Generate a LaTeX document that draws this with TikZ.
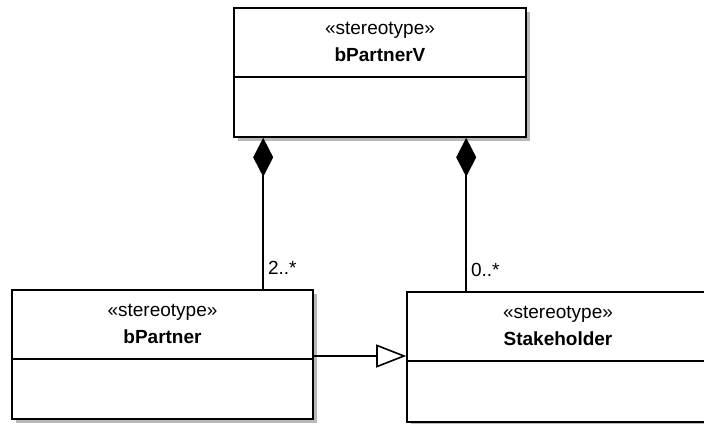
\documentclass[tikz,border=0pt]{standalone}
\usepackage{fontspec}
\setmainfont{Liberation Sans}
\usetikzlibrary{arrows.meta,calc,shadows}
\begin{document}
\begin{tikzpicture}[x=1pt,y=-1pt,
  classbox/.style={draw,line width=1.6pt,fill=white,inner sep=0pt,
    drop shadow={shadow xshift=4pt,shadow yshift=-4pt,fill=black!28,opacity=1}},
  stereo/.style={font=\fontsize{19}{22}\selectfont,inner sep=0pt},
  cname/.style={font=\fontsize{19}{22}\selectfont\bfseries,inner sep=0pt},
  mult/.style={font=\fontsize{19}{22}\selectfont,inner sep=4pt},
  conn/.style={line width=1.6pt},
  comp/.style={conn,{Diamond[length=39pt,width=20pt,fill=black]}-},
  gen/.style={conn,-{Triangle[open,length=30pt,width=23pt,fill=white]}}]
\useasboundingbox (0,0) rectangle (704,423);
\clip (0,0) rectangle (704,423);

% class boxes
\node[classbox,minimum width=292pt,minimum height=129pt] (V) at (380,72.5) {};
\node[classbox,minimum width=301pt,minimum height=129pt] (P) at (162.5,354.5) {};
\node[classbox,minimum width=302pt,minimum height=130pt] (S) at (558,357) {};

% compartments and titles
\foreach \b/\t in {V/bPartnerV,P/bPartner,S/Stakeholder}{
  \draw[conn] ($(\b.north west)+(0,70)$) -- ($(\b.north east)+(0,70)$);
  \node[stereo] (\b-st) at ($(\b.north)+(0,23)$) {«stereotype»};
  \node[cname] (\b-nm) at ($(\b.north)+(0,48)$) {\t};
}

% composition ends on the container
\path (V.south west) ++(30,0) coordinate (a1);
\path (V.south west) ++(233,0) coordinate (a2);
\draw[comp] (a1) -- node[mult,pos=0.86,right] (m1) {2..*} (a1 |- P.north);
\draw[comp] (a2) -- node[mult,pos=0.86,right] (m2) {0..*} (a2 |- S.north);

% generalization
\path (P.east) ++(0,1.5) coordinate (g1);
\draw[gen] (g1) -- (g1 -| S.west);
\end{tikzpicture}
\end{document}
